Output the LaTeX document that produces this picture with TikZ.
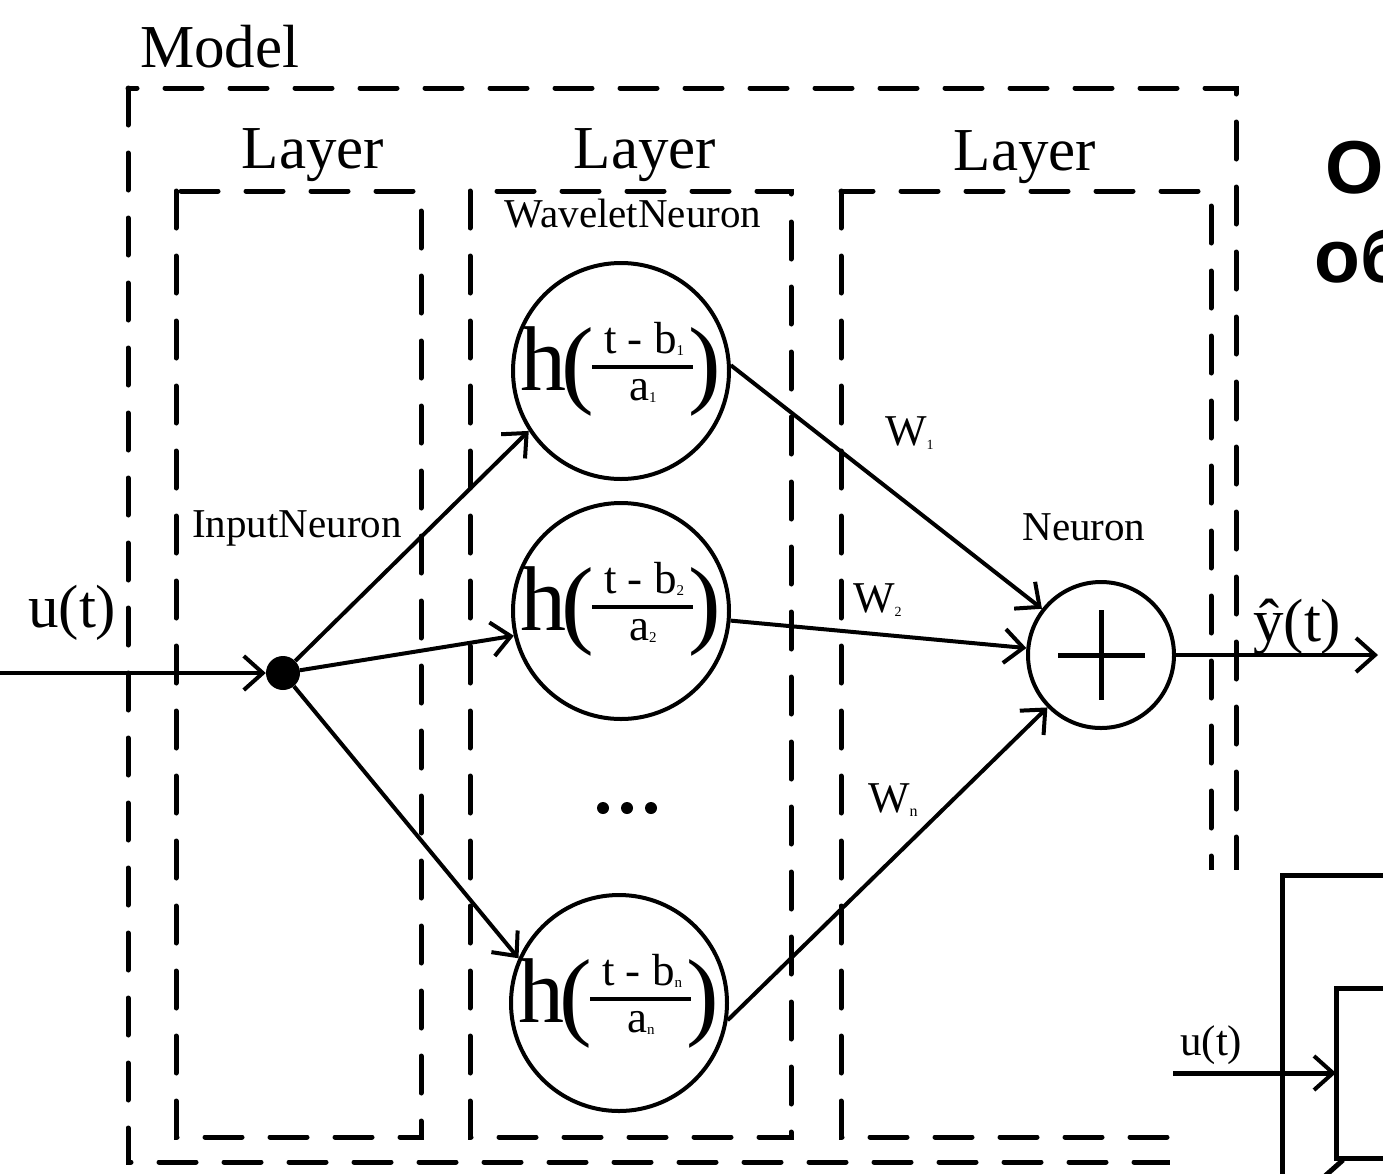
\documentclass[tikz,border=0pt]{standalone}
\usepackage{fontspec}
\setmainfont{Liberation Serif}
\newfontfamily\sansfam{Liberation Sans}
\usetikzlibrary{arrows.meta,calc}
\newcommand{\fsz}[1]{\fontsize{#1}{#1}\selectfont}
\newcommand{\wavlabel}[2]{%
  \node[inner sep=0pt,anchor=base west,font=\fsz{92}] (#1h) at ($(#1)+(-101,19)$) {h};
  \node[inner sep=0pt,anchor=base west,font=\fsz{98}] (#1l) at ($(#1)+(-60,24)$) {(};
  \node[inner sep=0pt,anchor=base west,font=\fsz{98}] (#1r) at ($(#1)+(67,24)$) {)};
  \draw[line width=3.5pt] ($(#1)+(-29,-4)$) -- ($(#1)+(72,-4)$);
  \node[inner sep=0pt,anchor=base,font=\fsz{45}] (#1num) at ($(#1)+(23,-18)$) {t - b\raisebox{-2pt}{\fsz{15}#2}};
  \node[inner sep=0pt,anchor=base,font=\fsz{45}] (#1den) at ($(#1)+(22,29)$) {a\raisebox{-2pt}{\fsz{15}#2}};
}
\begin{document}
\begin{tikzpicture}[x=1pt,y=-1pt,
  dbox/.style={line width=5pt,dash pattern=on 37pt off 28pt,line cap=round},
  conn/.style={line width=4pt,-{Straight Barb[length=19pt,width=34pt,line width=4pt]}},
  neuron/.style={circle,draw,line width=4pt,minimum size=216pt,inner sep=0pt},
  big/.style={inner sep=0pt,anchor=base,font=\fsz{61}},
  mid/.style={inner sep=0pt,anchor=base,font=\fsz{41}},
  wlbl/.style={inner sep=0pt,anchor=base west,font=\fsz{44}},
  solid5/.style={line width=5pt}]
\useasboundingbox (0,0) rectangle (1383,1173);
\clip (0,0) rectangle (1383,1173);

% dashed boxes
\draw[dbox] (128,88) rectangle (1236,1162);
\draw[dbox] (176,191) rectangle (421,1137);
\draw[dbox] (470,191) rectangle (791,1137);
\draw[dbox] (841,191) rectangle (1211,1137);

% titles
\node[big,anchor=base west] (model) at (140,67) {Model};
\node[big] (lay1) at (313,168) {Layer};
\node[big] (lay2) at (645,168) {Layer};
\node[big] (lay3) at (1025,170) {Layer};
\node[mid] (wn-lbl) at (633,227) {WaveletNeuron};
\node[mid] (in-lbl) at (297,537) {InputNeuron};
\node[mid] (sum-lbl) at (1084,540) {Neuron};

% nodes
\node[circle,fill,minimum size=34pt,inner sep=0pt] (in) at (283,673) {};
\node[neuron] (w1) at (621,371) {};
\node[neuron] (w2) at (621,611) {};
\node[neuron] (wn) at (619,1003) {};
\node[circle,draw,line width=4pt,minimum size=146pt,inner sep=0pt] (sum) at (1101,655) {};
\draw[solid5] ($(sum)+(-43,0)$) -- ($(sum)+(44,0)$);
\draw[solid5] ($(sum)+(0,-45)$) -- ($(sum)+(0,45)$);

\wavlabel{w1}{1}
\wavlabel{w2}{2}
\wavlabel{wn}{n}

% dots
\fill (603,808) circle (6);
\fill (627,808) circle (6);
\fill (651,808) circle (6);

% connectors
\coordinate (src) at (0,673);
\coordinate (out) at (1378,655);
\draw[conn] (src) -- (in);
\draw[conn] (in) -- (w1.213);
\draw[conn] (in) -- (w2.193);
\draw[conn] (in) -- (wn.156);
\draw[conn] (w1.3) -- (sum);
\draw[conn] (w2.-5) -- (sum);
\draw[conn] (wn.-9) -- (sum);
\draw[conn] (sum) -- (out);

% labels on signals
\node[big,anchor=base west] (ulbl) at (28,627) {u(t)};
\node[big,anchor=base west] (ylbl) at (1253,641) {ŷ(t)};
\node[wlbl] (w1lbl) at (885,445) {W\raisebox{-4pt}{\fsz{14}1}};
\node[wlbl] (w2lbl) at (853,612) {W\raisebox{-4pt}{\fsz{14}2}};
\node[wlbl] (wnlbl) at (868,812) {W\raisebox{-4pt}{\fsz{16}n}};

% overlay of another figure (bottom right)
\fill[white] (1170,870) rectangle (1383,1173);
\draw[solid5] (1390,875) -- (1282,875) -- (1282,1180);
\draw[solid5] (1390,988) -- (1336,988) -- (1336,1158) -- (1390,1158);
\draw[solid5] (1343,1160) -- (1325,1176);
\coordinate (us) at (1173,1073);
\coordinate (ib) at (1336,1073);
\draw[conn,line width=5pt] (us) -- (ib);
\node[inner sep=0pt,anchor=base west,font=\fsz{43}] (u2lbl) at (1180,1055) {u(t)};

% overlay text (top right)
\node[inner sep=0pt,anchor=base west,font=\sansfam\bfseries\fsz{75}] (otxt) at (1325,193) {O};
\node[inner sep=0pt,anchor=base west,font=\sansfam\bfseries\fsz{75}] (obtxt) at (1314,282) {об};
\end{tikzpicture}
\end{document}
